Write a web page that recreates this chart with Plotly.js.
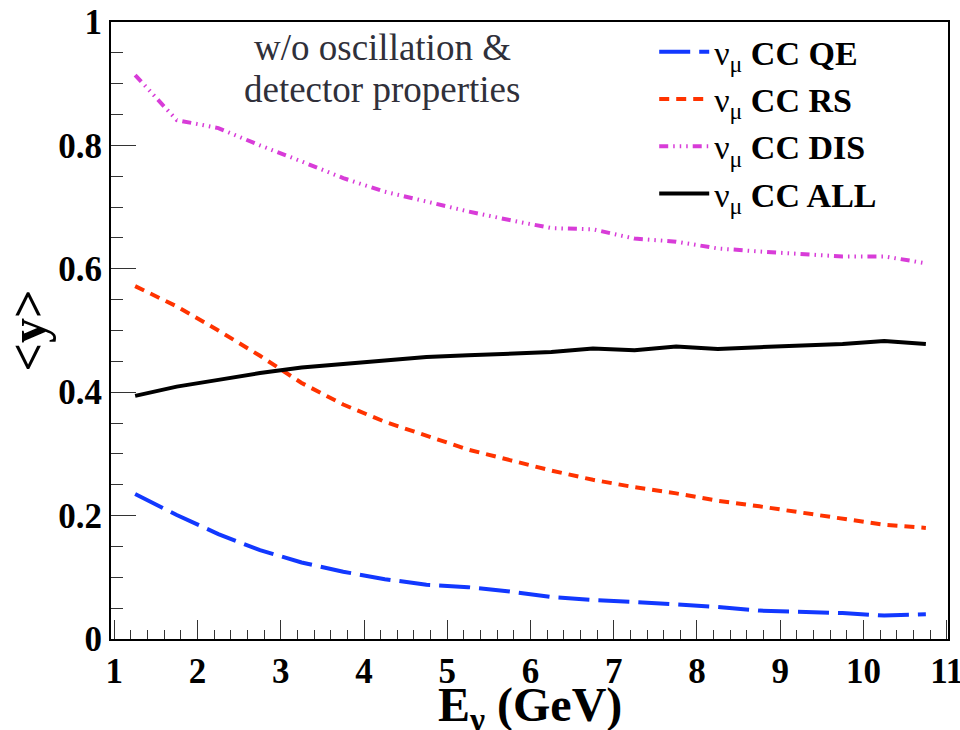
<!DOCTYPE html>
<html>
<head>
<meta charset="utf-8">
<script src="https://cdn.plot.ly/plotly-3.0.1.min.js"></script>
<style>
  html, body { margin: 0; padding: 0; background: #fff; }
  #chart { width: 960px; height: 730px; }
</style>
</head>
<body>
<div id="chart"></div>
<script>
// Neutrino energy bin centres (GeV)
const energy = [1.25, 1.75, 2.25, 2.75, 3.25, 3.75, 4.25, 4.75, 5.25, 5.75,
                6.25, 6.75, 7.25, 7.75, 8.25, 8.75, 9.25, 9.75, 10.25, 10.75];

// <y> values
const yQE  = [0.235, 0.201, 0.170, 0.144, 0.124, 0.109, 0.097, 0.088, 0.084, 0.077,
              0.068, 0.063, 0.060, 0.056, 0.052, 0.046, 0.044, 0.042, 0.038, 0.040];
const yRS  = [0.572, 0.539, 0.500, 0.459, 0.415, 0.380, 0.352, 0.330, 0.307, 0.290,
              0.273, 0.258, 0.246, 0.236, 0.224, 0.215, 0.205, 0.196, 0.185, 0.180];
const yDIS = [0.914, 0.841, 0.828, 0.800, 0.774, 0.747, 0.725, 0.709, 0.693, 0.679,
              0.666, 0.664, 0.649, 0.644, 0.633, 0.628, 0.624, 0.620, 0.620, 0.609];
const yALL = [0.394, 0.409, 0.420, 0.431, 0.440, 0.446, 0.451, 0.457, 0.460, 0.463,
              0.465, 0.471, 0.468, 0.474, 0.470, 0.473, 0.476, 0.478, 0.483, 0.478];

const seriesNames = [
  "ν<sub>μ</sub> <b>CC QE</b>",
  "ν<sub>μ</sub> <b>CC RS</b>",
  "ν<sub>μ</sub> <b>CC DIS</b>",
  "ν<sub>μ</sub> <b>CC ALL</b>"
];
const annoLines = ["w/o oscillation &", "detector properties"];
const xTitle = "E<sub>ν</sub> (GeV)";
const yTitle = "<y>";

const serif = "Liberation Serif, Times New Roman, serif";

const traces = [
  {x: energy, y: yQE,  name: seriesNames[0], legendgroup: "a",
   line: {color: "#1238ff", width: 4, dash: "31px,9px"}},
  {x: energy, y: yRS,  name: seriesNames[1], legendgroup: "b",
   line: {color: "#ff3300", width: 4, dash: "10px,7px"}},
  {x: energy, y: yDIS, name: seriesNames[2], legendgroup: "c",
   line: {color: "#d83cd8", width: 4, dash: "9px,5px,1.5px,5px,1.5px,5px,1.5px,5px"}},
  {x: energy, y: yALL, name: seriesNames[3], legendgroup: "d",
   line: {color: "#000000", width: 4}}
].map(t => Object.assign({type: "scatter", mode: "lines", hoverinfo: "skip"}, t));

const layout = {
  width: 960, height: 730,
  margin: {l: 111, r: 12, t: 22, b: 91, pad: 0},
  paper_bgcolor: "#ffffff",
  plot_bgcolor: "#ffffff",
  font: {family: serif, color: "#000"},
  showlegend: true,
  legend: {
    x: 0.649, y: 0.998, xanchor: "left", yanchor: "top",
    bgcolor: "rgba(0,0,0,0)", borderwidth: 0,
    font: {family: serif, size: 34, color: "#000"},
    tracegroupgap: 9, itemwidth: 50, traceorder: "normal"
  },
  xaxis: {
    range: [0.96, 11.016],
    tick0: 1, dtick: 1,
    ticks: "inside", ticklen: 19, tickwidth: 1, tickcolor: "#333",
    minor: {dtick: 0.2, tick0: 1, ticks: "inside", ticklen: 9, tickwidth: 1, tickcolor: "#333", showgrid: false},
    showline: true, linewidth: 2, linecolor: "#000", mirror: true,
    showgrid: false, zeroline: false,
    ticklabeloverflow: "allow",
    tickfont: {family: serif, size: 35, color: "#000", weight: "bold"}
  },
  yaxis: {
    range: [0, 1],
    tick0: 0, dtick: 0.2,
    ticks: "inside", ticklen: 25, tickwidth: 1, tickcolor: "#333",
    minor: {dtick: 0.05, ticks: "inside", ticklen: 12, tickwidth: 1, tickcolor: "#333", showgrid: false},
    showline: true, linewidth: 2, linecolor: "#000", mirror: true,
    showgrid: false, zeroline: false,
    ticklabeloverflow: "allow",
    tickfont: {family: serif, size: 35, color: "#000", weight: "bold"},
    title: {text: yTitle, font: {family: serif, size: 50, color: "#000", weight: "bold"}, standoff: 8}
  },
  annotations: [
    {text: annoLines[0], xref: "paper", yref: "paper", x: 0.324, y: 0.958,
     xanchor: "center", yanchor: "middle", showarrow: false,
     font: {family: serif, size: 37, color: "#30303a"}},
    {text: annoLines[1], xref: "paper", yref: "paper", x: 0.324, y: 0.890,
     xanchor: "center", yanchor: "middle", showarrow: false,
     font: {family: serif, size: 37, color: "#30303a"}},
    {text: "<b>" + xTitle + "</b>", xref: "paper", yref: "paper", x: 0.5, y: -0.112,
     xanchor: "center", yanchor: "middle", showarrow: false,
     font: {family: serif, size: 48, color: "#000"}}
  ]
};

Plotly.newPlot("chart", traces, layout, {displayModeBar: false, staticPlot: true});
</script>
</body>
</html>
